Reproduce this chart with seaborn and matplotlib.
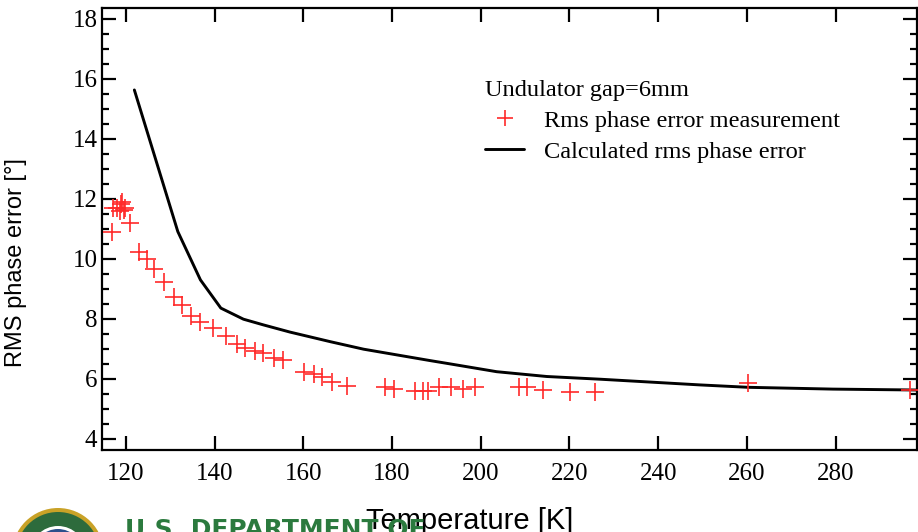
import numpy as np
import pandas as pd
import matplotlib
matplotlib.use("Agg")
import matplotlib.pyplot as plt
from matplotlib.patches import Circle
from matplotlib.ticker import MultipleLocator
from matplotlib.lines import Line2D
import seaborn as sns

# measured rms phase error
meas_T = [116.9, 117.1, 118.0, 118.9, 119.1, 119.5, 119.9, 118.6, 120.9, 122.9,
          124.8, 126.3, 128.5, 130.9, 132.7, 134.7, 136.8, 139.6, 142.6, 145.0,
          146.9, 149.2, 151.0, 153.3, 155.4, 160.2, 162.3, 164.2, 166.4, 169.8,
          178.4, 180.5, 185.2, 186.9, 188.2, 190.5, 193.2, 195.9, 198.6, 208.7,
          210.5, 214.1, 220.1, 225.7, 260.3, 296.8]
meas_err = [10.89, 11.69, 11.69, 11.83, 11.91, 11.63, 11.69, 11.58, 11.19, 10.22,
            9.99, 9.66, 9.24, 8.74, 8.47, 8.10, 7.88, 7.69, 7.43, 7.16,
            7.02, 6.93, 6.86, 6.69, 6.63, 6.24, 6.17, 6.06, 5.91, 5.77,
            5.74, 5.66, 5.60, 5.60, 5.61, 5.72, 5.72, 5.67, 5.74, 5.72,
            5.72, 5.63, 5.56, 5.56, 5.88, 5.63]

# calculated rms phase error
calc_T = [121.9, 131.7, 136.8, 141.4, 146.5, 151.0, 157.0, 166.1, 173.6, 181.1,
          188.6, 192.3, 203.6, 214.9, 226.9, 249.4, 260.3, 279.4, 298.3]
calc_err = [15.63, 10.91, 9.30, 8.36, 7.99, 7.80, 7.56, 7.24, 6.99, 6.80,
            6.61, 6.52, 6.24, 6.08, 5.99, 5.80, 5.72, 5.66, 5.63]

x_ticks = [120, 140, 160, 180, 200, 220, 240, 260, 280]
y_ticks = [4, 6, 8, 10, 12, 14, 16, 18]

legend_title = "Undulator gap=6mm"
label_meas = "Rms phase error measurement"
label_calc = "Calculated rms phase error"

sns.set_theme(style="ticks")
plt.rcParams['font.family'] = ['Liberation Serif', 'DejaVu Serif']
plt.rcParams['text.color'] = 'black'
plt.rcParams['axes.labelcolor'] = 'black'
plt.rcParams['xtick.color'] = 'black'
plt.rcParams['ytick.color'] = 'black'

df_meas = pd.DataFrame({"T": meas_T, "err": meas_err})
df_calc = pd.DataFrame({"T": calc_T, "err": calc_err})

fig = plt.figure(figsize=(9.18, 5.32), dpi=100)
ax = fig.add_axes([0.1106, 0.1541, 0.888, 0.8308])

sns.lineplot(data=df_calc, x="T", y="err", ax=ax, color="black", linewidth=2.1,
             sort=False, estimator=None, zorder=2)
sns.scatterplot(data=df_meas, x="T", y="err", ax=ax, marker="+", s=160,
                color="#ff2a2a", linewidth=1.2, zorder=3, clip_on=False)

ax.set_xlim(114.5, 298.3)
ax.set_ylim(3.63, 18.36)
ax.set_xticks(x_ticks)
ax.set_yticks(y_ticks)
ax.yaxis.set_minor_locator(MultipleLocator(0.5))

for s in ax.spines.values():
    s.set_linewidth(1.6)
    s.set_color("black")
    s.set_visible(True)

ax.tick_params(axis='both', which='both', direction='in', top=True, right=True,
               colors='black', labelcolor='black', labelsize=18)
ax.tick_params(axis='both', which='major', length=10, width=1.6)
ax.tick_params(axis='y', which='minor', length=5, width=1.6)
ax.tick_params(axis='x', which='major', pad=9)
ax.tick_params(axis='y', which='major', pad=3)

ax.set_ylabel("RMS phase error [°]", fontsize=17, color='black',
              family=['Liberation Sans', 'DejaVu Sans'])
ax.yaxis.set_label_coords(-0.091, 0.425)
ax.set_xlabel("Temperature [K]", fontsize=21, color='black',
              family=['Liberation Sans Narrow', 'Liberation Sans', 'DejaVu Sans'])
ax.xaxis.set_label_coords(0.452, -0.128)
ax.xaxis.label.set_zorder(10)

handles = [Line2D([], [], marker="+", color="#ff2a2a", linestyle="none",
                  markersize=12, markeredgewidth=1.2),
           Line2D([], [], color="black", linewidth=2.1)]
leg = ax.legend(handles, [label_meas, label_calc], title=legend_title,
                loc="upper left", bbox_to_anchor=(0.515, 0.872),
                bbox_transform=fig.transFigure, frameon=False, fontsize=17.6,
                title_fontsize=17.6, alignment="left", handlelength=1.6,
                handletextpad=0.8, labelspacing=0.35, borderpad=0.0)
leg.get_title().set_color('black')
for t in leg.get_texts():
    t.set_color('black')

# logo fragment at bottom left
seal = [(0.46, "#c9a227"), (0.42, "#2d6b3c"), (0.28, "#ffffff"), (0.25, "#2b4f8c")]
for r, c in seal:
    fig.patches.append(Circle((0.58, -0.22), r, transform=fig.dpi_scale_trans,
                              facecolor=c, edgecolor="none", zorder=1))
fig.text(125 / 918, (532 - 518) / 532, "U.S. DEPARTMENT OF", color="#2b7a3e",
         fontsize=18, fontweight="bold", family=['DejaVu Sans'], va="top", ha="left",
         zorder=1)

fig.savefig("out.png", dpi=100)
